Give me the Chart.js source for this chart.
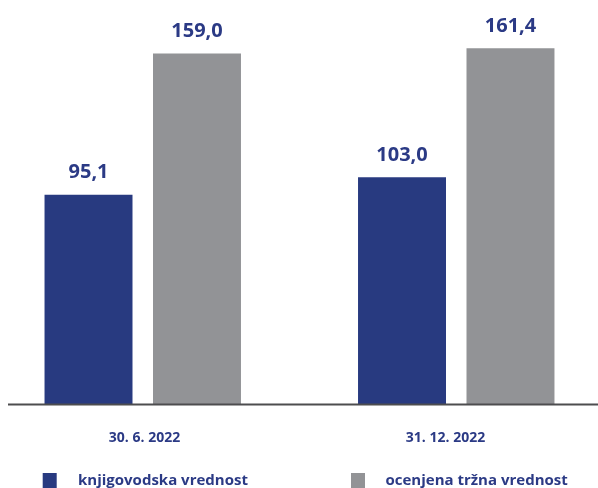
<!DOCTYPE html>
<html><head><meta charset="utf-8">
<script src="https://cdn.jsdelivr.net/npm/chart.js@4/dist/chart.umd.min.js"></script>
<style>
html,body{margin:0;padding:0;width:598px;height:488px;overflow:hidden;background:#fff}
#wrap{position:absolute;left:-14px;top:0;width:627px;height:488px}
</style></head><body>
<div id="wrap"><canvas id="c"></canvas></div>
<script>
// ---- data ----
const categories = ['30. 6. 2022', '31. 12. 2022'];
const seriesNames = ['knjigovodska vrednost', 'ocenjena tržna vrednost'];
const bookValues = [95.1, 103.0];
const marketValues = [159.0, 161.4];
const yMin = 0;
const yMax = 180;

// ---- style / layout ----
const NAVY = '#283a80';
const GRAY = '#929396';
const TEXT = '#2b3a85';
const SHIFT = 14;               // canvas starts 14px left of the page
const CAT_LABEL_X = [144.5, 445.5];
const CAT_LABEL_Y = 442;
const LEGEND_BOX_X = [42.7, 351];
const LEGEND_TEXT_X = [78, 385.5];
const LEGEND_Y = 473;
const LEGEND_BASE = 484.5;

const fmt = v => v.toFixed(1).replace('.', ',');

const decor = {
  id: 'decor',
  afterDatasetsDraw(chart) {
    const ctx = chart.ctx;
    const y0 = chart.scales.y.getPixelForValue(0);
    ctx.save();
    // baseline axis line
    ctx.strokeStyle = '#4d4d4f';
    ctx.lineWidth = 2;
    ctx.beginPath();
    ctx.moveTo(8 + SHIFT, y0 - 0.5);
    ctx.lineTo(chart.width, y0 - 0.5);
    ctx.stroke();
    // value labels
    ctx.fillStyle = TEXT;
    ctx.textAlign = 'center';
    ctx.textBaseline = 'alphabetic';
    ctx.font = 'bold 20px "Open Sans"';
    chart.data.datasets.forEach((ds, i) => {
      chart.getDatasetMeta(i).data.forEach((bar, j) => {
        ctx.fillText(fmt(ds.data[j]), bar.x, bar.y - 16.5);
      });
    });
    // category labels
    ctx.font = 'bold 14px "Open Sans"';
    categories.forEach((c, j) => ctx.fillText(c, CAT_LABEL_X[j] + SHIFT, CAT_LABEL_Y));
    // legend
    ctx.textAlign = 'left';
    ctx.font = 'bold 15px "Open Sans"';
    chart.data.datasets.forEach((ds, i) => {
      ctx.fillStyle = ds.backgroundColor;
      ctx.fillRect(LEGEND_BOX_X[i] + SHIFT, LEGEND_Y, 14, 16);
      ctx.fillStyle = TEXT;
      ctx.fillText(ds.label, LEGEND_TEXT_X[i] + SHIFT, LEGEND_BASE);
    });
    ctx.restore();
  }
};

new Chart(document.getElementById('c'), {
  type: 'bar',
  data: {
    labels: categories,
    datasets: [
      { label: seriesNames[0], data: bookValues, backgroundColor: NAVY, borderWidth: 0 },
      { label: seriesNames[1], data: marketValues, backgroundColor: GRAY, borderWidth: 0 }
    ]
  },
  options: {
    responsive: true,
    maintainAspectRatio: false,
    animation: false,
    devicePixelRatio: 1,
    datasets: { bar: { barPercentage: 0.811, categoryPercentage: 0.692 } },
    layout: { padding: { top: 7, bottom: 83, left: 0, right: 0 } },
    scales: {
      x: { display: false },
      y: { display: false, min: yMin, max: yMax }
    },
    plugins: { legend: { display: false }, tooltip: { enabled: false } }
  },
  plugins: [decor]
});
</script>
</body></html>
